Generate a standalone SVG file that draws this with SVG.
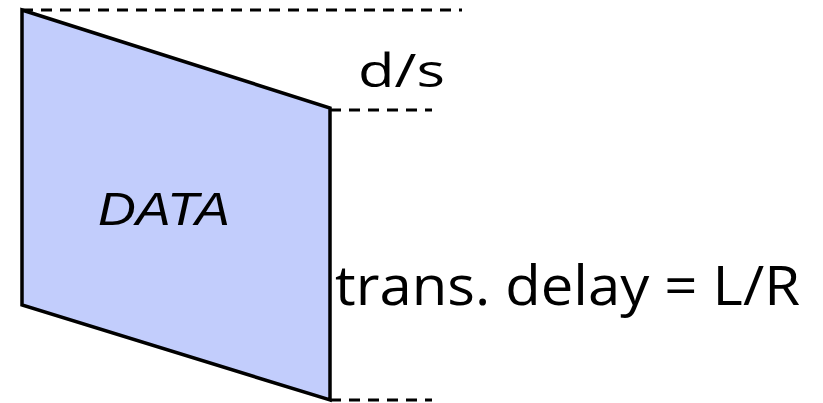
<svg xmlns="http://www.w3.org/2000/svg" width="823" height="403" viewBox="0 0 823 403">
<style>
.dash{stroke:#000;stroke-width:3;stroke-dasharray:11 8;fill:none}
.lbl{font-family:"Comic Sans MS","Open Sans","Liberation Sans",sans-serif;fill:#000}
</style>
<rect width="823" height="403" fill="#fff"/>
<g id="packet">
<polygon points="22,10 330,108 330,400 22,305" fill="#c2cdfc" stroke="#000" stroke-width="3.5" stroke-linejoin="miter"/>
<text x="98" y="225" font-family="Liberation Sans, sans-serif" font-style="italic" font-size="47" textLength="132" lengthAdjust="spacingAndGlyphs">DATA</text>
</g>
<g id="connectors">
<line class="dash" x1="22" y1="10" x2="462" y2="10"/>
<line class="dash" x1="330" y1="110" x2="432" y2="110"/>
<line class="dash" x1="330" y1="400" x2="432" y2="400"/>
</g>
<g id="labels">
<text x="358" y="87" class="lbl" font-size="46" textLength="87" lengthAdjust="spacingAndGlyphs">d/s</text>
<text x="335" y="305" class="lbl" font-size="54" textLength="465" lengthAdjust="spacingAndGlyphs">trans. delay = L/R</text>
</g>
</svg>
